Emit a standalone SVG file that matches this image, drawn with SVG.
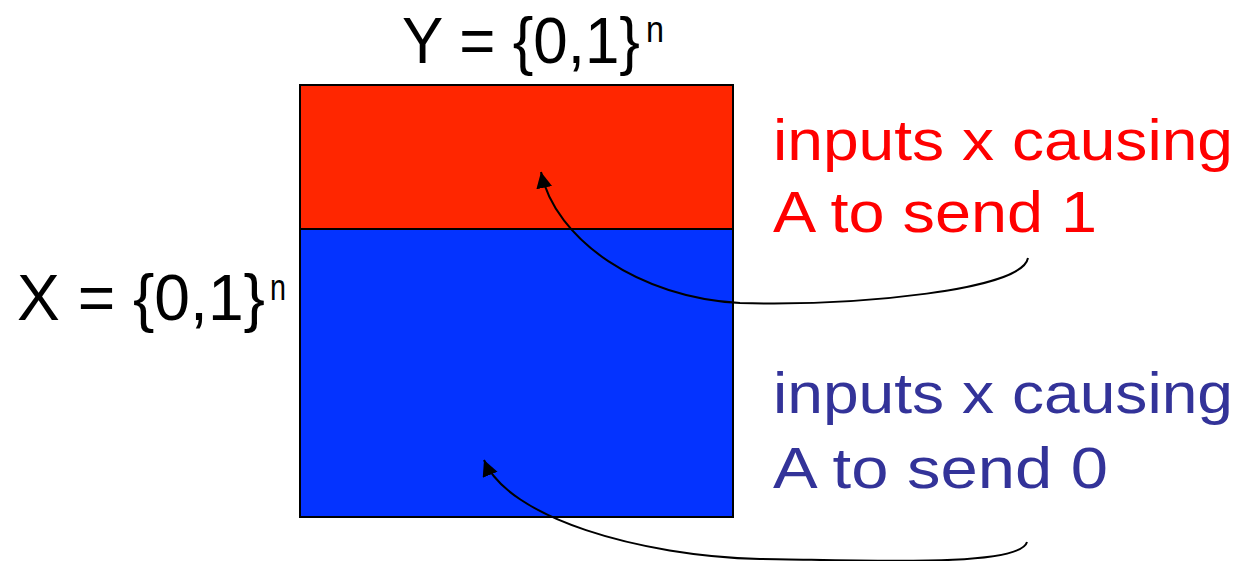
<svg xmlns="http://www.w3.org/2000/svg" width="1245" height="561" viewBox="0 0 1245 561">
<defs>
<style>
.lbl{font-family:"Liberation Sans",Arial,sans-serif;fill:#000}
.big{font-size:64px}
.sup{font-size:36px}
.txt{font-family:"Liberation Sans",Arial,sans-serif;font-size:58px}
.red{fill:#FF0000}
.blue{fill:#333399}
.conn{fill:none;stroke:#000;stroke-width:2;marker-end:url(#ah)}
</style>
<marker id="ah" markerUnits="userSpaceOnUse" markerWidth="17" markerHeight="17" refX="16" refY="8" orient="auto">
<path d="M0,0 L16,8 L0,16 z" fill="#000"/>
</marker>
</defs>
<rect width="1245" height="561" fill="#fff"/>
<g id="box-red">
<rect x="300" y="85" width="433" height="144" fill="#FF2600" stroke="#000" stroke-width="2"/>
</g>
<g id="box-blue">
<rect x="300" y="229" width="433" height="288" fill="#0433FF" stroke="#000" stroke-width="2"/>
</g>
<g id="label-y">
<text class="lbl big" x="402" y="63" textLength="238" lengthAdjust="spacingAndGlyphs">Y = {0,1}</text>
<text class="lbl sup" x="646" y="42" textLength="18" lengthAdjust="spacingAndGlyphs">n</text>
</g>
<g id="label-x">
<text class="lbl big" x="17" y="320" textLength="248" lengthAdjust="spacingAndGlyphs">X = {0,1}</text>
<text class="lbl sup" x="270" y="300" textLength="16" lengthAdjust="spacingAndGlyphs">n</text>
</g>
<g id="label-red">
<text class="txt red" x="773" y="160" textLength="460" lengthAdjust="spacingAndGlyphs">inputs x causing</text>
<text class="txt red" x="773" y="232" textLength="324" lengthAdjust="spacingAndGlyphs">A to send 1</text>
</g>
<g id="label-blue">
<text class="txt blue" x="773" y="413" textLength="460" lengthAdjust="spacingAndGlyphs">inputs x causing</text>
<text class="txt blue" x="773" y="488" textLength="335" lengthAdjust="spacingAndGlyphs">A to send 0</text>
</g>
<g id="connectors">
<path class="conn" d="M1028,258 C1022,290 860,306 740,303 C640,298 555,240 541,172"/>
<path class="conn" d="M1027,542 C1020,568 860,560 760,559 C640,556 508,518 484,460"/>
</g>
</svg>
